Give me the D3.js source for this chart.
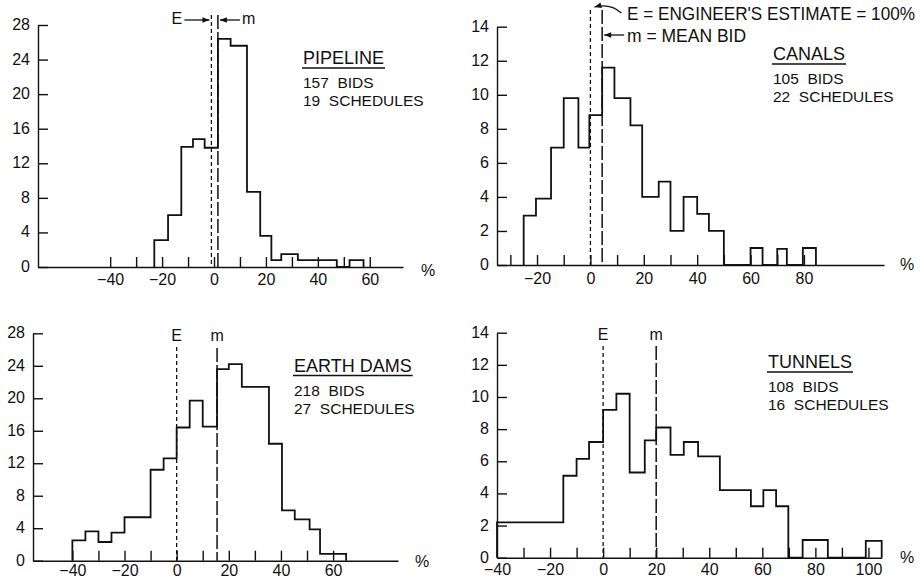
<!DOCTYPE html>
<html>
<head>
<meta charset="utf-8">
<script src="https://cdn.jsdelivr.net/npm/d3@7"></script>
<style>
  body { margin: 0; background: #fff; }
  text { font-family: "Liberation Sans", Arial, sans-serif; fill: #111; }
</style>
</head>
<body>
<div id="viz"></div>
<script>
// bin edges (% over engineer's estimate) and number of bids per bin
var pipelineEdges = [-23, -17.7, -12.6, -8.1, -3.6, 1.5, 6.4, 12.7, 17.8, 22.1, 25.9, 32.3, 47.3, 52.2, 57.6];
var pipelineCounts = [3.1, 6, 13.9, 14.8, 13.8, 26.4, 25.6, 8.7, 3.6, 0.8, 1.5, 0.8, 0, 0.8];

var canalEdges = [-25, -20.4, -14.75, -10, -4.5, -0.4, 4.4, 9, 15, 19.4, 25.6, 30, 34.9, 40, 44.4, 50, 60, 64.5, 70, 73.6, 79.6, 84.5];
var canalCounts = [2.9, 3.9, 6.9, 9.8, 6.9, 8.8, 11.6, 9.8, 8.2, 4.0, 4.9, 2.0, 4.0, 3.0, 2.0, 0, 1.0, 0, 0.95, 0, 1.0];

var damEdges = [-40, -35, -30, -25, -20, -10, -5, 0, 5, 10, 15.5, 20, 25, 35.4, 40.4, 45.3, 51, 55, 65];
var damCounts = [2.5, 3.6, 2.3, 3.45, 5.35, 11.2, 12.6, 16.4, 19.7, 16.5, 23.6, 24.2, 21.4, 14.4, 6.2, 5.1, 3.85, 0.85];

var tunnelEdges = [-40, -15, -10, -5.3, 0, 5, 10, 15.7, 20, 25.4, 30.4, 35.8, 44, 55.7, 60.4, 65.2, 69.8, 75.2, 84.7, 99, 105];
var tunnelCounts = [2.2, 5.1, 6.15, 7.2, 9.2, 10.2, 5.3, 7.3, 8.1, 6.4, 7.2, 6.3, 4.2, 3.2, 4.2, 3.2, 0, 1.1, 0, 1.05];

var titles = ["PIPELINE", "CANALS", "EARTH DAMS", "TUNNELS"];
var bids = ["157  BIDS", "105  BIDS", "218  BIDS", "108  BIDS"];
var schedules = ["19  SCHEDULES", "22  SCHEDULES", "27  SCHEDULES", "16  SCHEDULES"];

var estimateE = [-1, 0, 0, 0];
var meanM = [1.5, 4.4, 15.5, 20];

var yTicks28 = [0, 4, 8, 12, 16, 20, 24, 28];
var yTicks14 = [0, 2, 4, 6, 8, 10, 12, 14];
var pipelineXTicks = [-40, -30, -20, -10, 0, 10, 20, 30, 40, 50, 60];
var pipelineXLabels = [-40, -20, 0, 20, 40, 60];
var canalXTicks = [-30, -20, -10, 0, 10, 20, 30, 40, 50, 60, 70, 80];
var canalXLabels = [-20, 0, 20, 40, 60, 80];
var damXTicks = [-40, -30, -20, -10, 0, 10, 20, 30, 40, 50, 60];
var damXLabels = [-40, -20, 0, 20, 40, 60];
var tunnelXTicks = [-30, -20, -10, 0, 10, 20, 30, 40, 50, 60, 70, 80, 90, 100];
var tunnelXLabels = [-40, -20, 0, 20, 40, 60, 80, 100];

// layout of each panel
var panels = [
  {edges: pipelineEdges, counts: pipelineCounts, xTicks: pipelineXTicks, xLabels: pipelineXLabels, yTicks: yTicks28,
   xDom: [-67.8, 72.8], xRange: [38, 403], yRange: [267, 25], lineTop: 15, lineTopM: 15,
   tx: 303, ty: 64, pct: [421, 276], pad: 6},
  {edges: canalEdges, counts: canalCounts, xTicks: canalXTicks, xLabels: canalXLabels, yTicks: yTicks14,
   xDom: [-35, 110], xRange: [497, 884], yRange: [265, 26.7], lineTop: 10, lineTopM: 10,
   tx: 773, ty: 60, pct: [900, 270], pad: 6.5},
  {edges: damEdges, counts: damCounts, xTicks: damXTicks, xLabels: damXLabels, yTicks: yTicks28,
   xDom: [-55.1, 84.9], xRange: [33, 398], yRange: [560.7, 333.3], lineTop: 347, lineTopM: 348,
   tx: 294, ty: 371.5, pct: [415, 567], labelE: true, pad: 3},
  {edges: tunnelEdges, counts: tunnelCounts, xTicks: tunnelXTicks, xLabels: tunnelXLabels, yTicks: yTicks14,
   xDom: [-40, 105], xRange: [497, 881.7], yRange: [557.7, 332.7], lineTop: 346, lineTopM: 346,
   tx: 768, ty: 368, pct: [900, 563], labelE: true, pad: 4.5}
];

var svg = d3.select("#viz")
    .append("svg")
    .attr("width", 922)
    .attr("height", 580);

svg.append("defs").append("marker")
    .attr("id", "arrow")
    .attr("viewBox", "0 0 10 10")
    .attr("refX", 10).attr("refY", 5)
    .attr("markerWidth", 9).attr("markerHeight", 7)
    .attr("markerUnits", "userSpaceOnUse")
    .attr("orient", "auto")
  .append("path")
    .attr("d", "M0,1 L10,5 L0,9 Z")
    .attr("fill", "#111");

function fmt(d) { return d < 0 ? "\u2212" + Math.abs(d) : "" + d; }

panels.forEach(function(p, k) {
    var x = d3.scaleLinear().domain(p.xDom).range(p.xRange);
    var yMax = p.yTicks[p.yTicks.length - 1];
    var y = d3.scaleLinear().domain([0, yMax]).range(p.yRange);
    var g = svg.append("g");
    var y0 = y(0);

    // x axis: ticks every 10, labels every 20
    var xa = g.append("g").attr("transform", "translate(0," + y0 + ")")
        .call(d3.axisBottom(x).tickValues(p.xTicks).tickSize(-10).tickSizeOuter(0).tickFormat(""));
    var xl = g.append("g").attr("transform", "translate(0," + (y0 + 1) + ")")
        .call(d3.axisBottom(x).tickValues(p.xLabels).tickSize(0).tickPadding(p.pad).tickFormat(fmt));
    xl.select(".domain").remove();

    var ya = g.append("g").attr("transform", "translate(" + p.xRange[0] + ",0)")
        .call(d3.axisLeft(y).tickValues(p.yTicks).tickSize(-10).tickSizeOuter(0).tickPadding(8));

    [xa, xl, ya].forEach(function(a) {
        a.attr("font-size", 16).attr("font-family", null);
        a.selectAll("path,line").attr("stroke", "#111").attr("stroke-width", 1.4);
    });
    ya.selectAll(".tick text").attr("dy", "0.28em");

    g.append("text").attr("x", p.pct[0]).attr("y", p.pct[1])
        .attr("font-size", 16).text("%");

    // histogram outline
    var pts = [[p.edges[0], 0]];
    p.counts.forEach(function(c, i) {
        pts.push([p.edges[i], c]);
        pts.push([p.edges[i + 1], c]);
    });
    pts.push([p.edges[p.edges.length - 1], 0]);

    g.append("path")
        .attr("d", d3.line().x(function(d) { return x(d[0]); }).y(function(d) { return y(d[1]); })(pts))
        .attr("fill", "none")
        .attr("stroke", "#111")
        .attr("stroke-width", 1.8)
        .attr("stroke-linejoin", "miter");

    // E and m lines
    var xe = x(estimateE[k]), xm = x(meanM[k]);
    g.append("line").attr("x1", xe).attr("x2", xe).attr("y1", p.lineTop).attr("y2", y0)
        .attr("stroke", "#111").attr("stroke-width", 1.3).attr("stroke-dasharray", "4,3");
    g.append("line").attr("x1", xm).attr("x2", xm).attr("y1", p.lineTopM).attr("y2", y0)
        .attr("stroke", "#111").attr("stroke-width", 1.5).attr("stroke-dasharray", "14,3");

    if (p.labelE) {
        g.append("text").attr("x", xe).attr("y", p.lineTop - 6).attr("text-anchor", "middle")
            .attr("font-size", 16).text("E");
        g.append("text").attr("x", xm).attr("y", p.lineTop - 6).attr("text-anchor", "middle")
            .attr("font-size", 16).text("m");
    }

    // title block
    var t = g.append("text").attr("x", p.tx).attr("y", p.ty).attr("font-size", 18).text(titles[k]);
    var w = t.node().getComputedTextLength();
    g.append("line").attr("x1", p.tx - 1).attr("x2", p.tx + w + 1)
        .attr("y1", p.ty + 4).attr("y2", p.ty + 4)
        .attr("stroke", "#111").attr("stroke-width", 1.3);
    g.append("text").attr("x", p.tx).attr("y", p.ty + 24).attr("font-size", 15.5)
        .style("white-space", "pre").text(bids[k]);
    g.append("text").attr("x", p.tx).attr("y", p.ty + 42).attr("font-size", 15.5)
        .style("white-space", "pre").text(schedules[k]);

    if (k === 0) {
        g.append("text").attr("x", xe - 40).attr("y", 24).attr("font-size", 16).text("E");
        g.append("line").attr("x1", xe - 27).attr("x2", xe - 2).attr("y1", 20).attr("y2", 20)
            .attr("stroke", "#111").attr("stroke-width", 1.3).attr("marker-end", "url(#arrow)");
        g.append("line").attr("x1", xm + 22).attr("x2", xm + 2).attr("y1", 20).attr("y2", 20)
            .attr("stroke", "#111").attr("stroke-width", 1.3).attr("marker-end", "url(#arrow)");
        g.append("text").attr("x", xm + 24).attr("y", 24).attr("font-size", 16).text("m");
    }
    if (k === 1) {
        g.append("path")
            .attr("d", "M" + (xe + 31) + ",13 Q" + (xe + 20) + ",3 " + (xe + 4) + ",7")
            .attr("fill", "none").attr("stroke", "#111").attr("stroke-width", 1.2)
            .attr("marker-end", "url(#arrow)");
        g.append("text").attr("x", 627).attr("y", 20).attr("font-size", 17.5)
            .attr("textLength", 288).attr("lengthAdjust", "spacingAndGlyphs")
            .text("E = ENGINEER'S ESTIMATE = 100%");
        g.append("line").attr("x1", xm + 22).attr("x2", xm + 2).attr("y1", 35).attr("y2", 35)
            .attr("stroke", "#111").attr("stroke-width", 1.3).attr("marker-end", "url(#arrow)");
        g.append("text").attr("x", 627).attr("y", 42).attr("font-size", 17.5)
            .text("m = MEAN BID");
    }
});
</script>
</body>
</html>
